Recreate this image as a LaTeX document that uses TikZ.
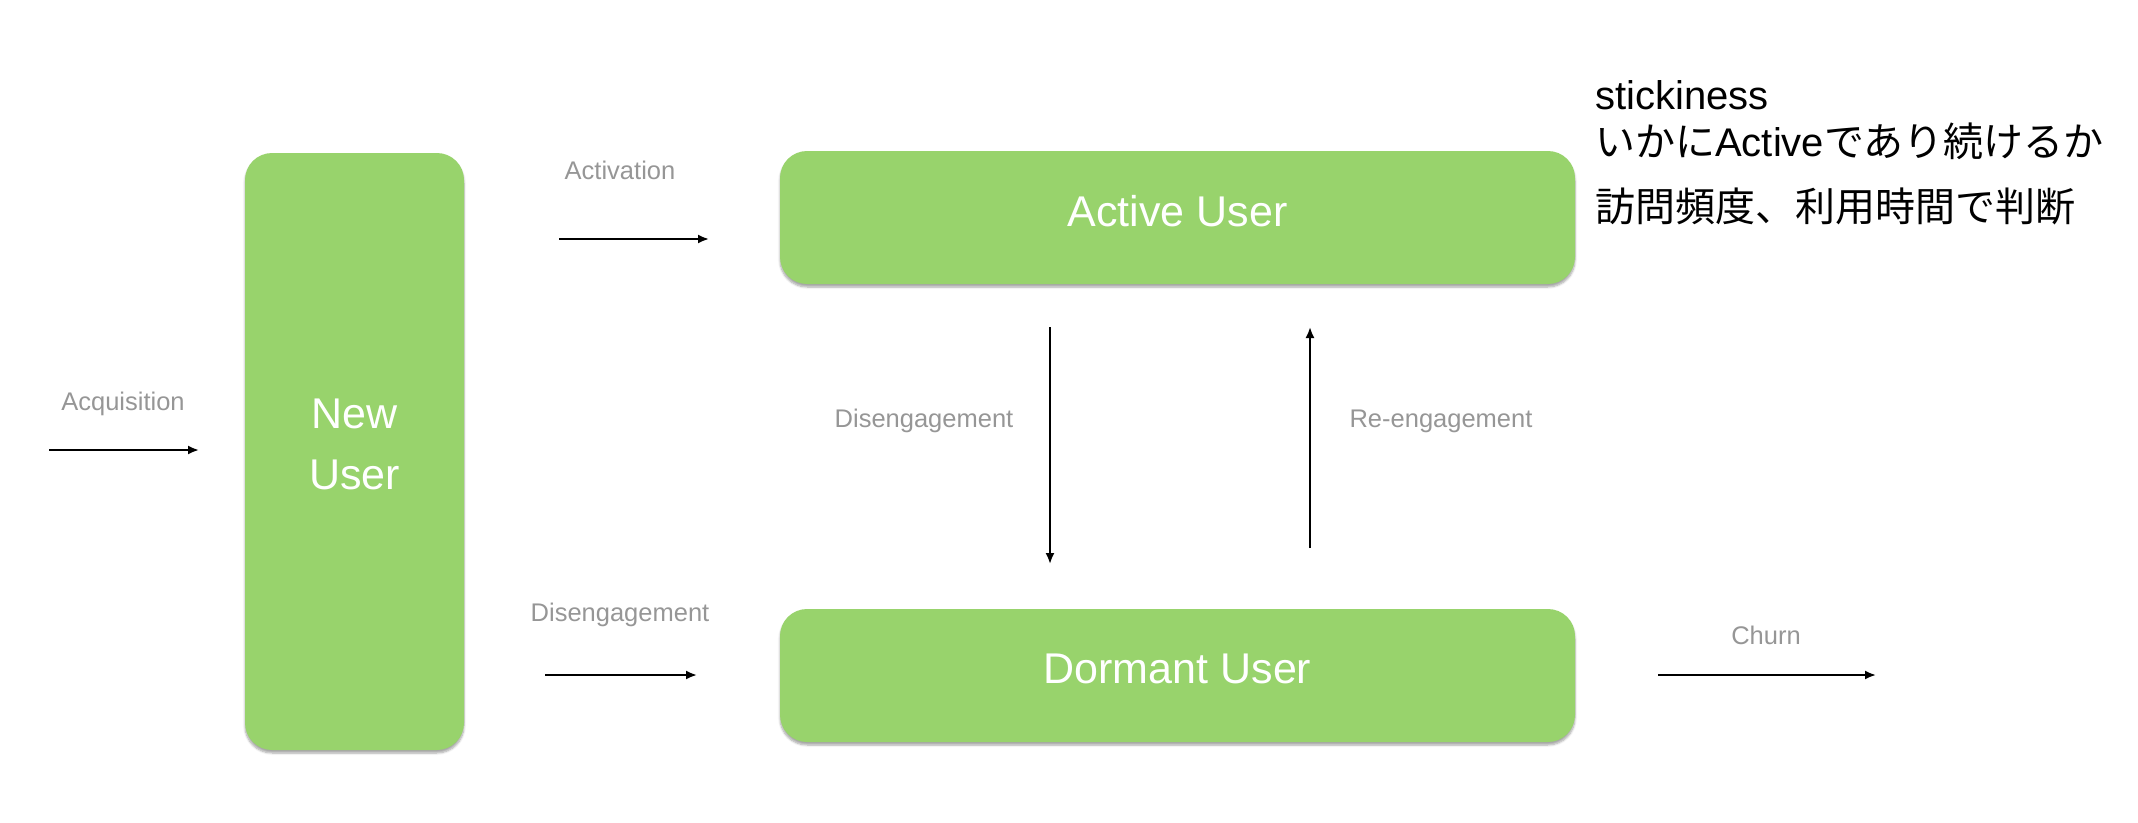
\documentclass[tikz,border=0pt]{standalone}
\usepackage{fontspec}
\setmainfont{Liberation Sans}
\newfontfamily\jp{Noto Sans CJK JP}
\usetikzlibrary{arrows.meta,shadows.blur}
\definecolor{boxgreen}{RGB}{152,211,108}
\definecolor{labelgray}{RGB}{150,150,150}
\tikzset{
  userbox/.style={rectangle, rounded corners=27pt, fill=boxgreen, draw=none,
    blur shadow={shadow xshift=0pt, shadow yshift=-3pt, shadow blur steps=6, shadow opacity=35},
    text=white, font=\fontsize{43}{61}\selectfont, align=center, inner sep=0pt, text depth=14pt},
  flowlabel/.style={text=labelgray, font=\fontsize{25.5}{29}\selectfont, inner sep=0pt},
  arr/.style={draw=black, line width=2pt, -{Latex[length=11pt,width=9pt]}},
  note/.style={anchor=west, inner sep=0pt, font=\fontsize{40}{48}\selectfont, text=black}
}
\begin{document}
\begin{tikzpicture}[x=1pt,y=-1pt]
\useasboundingbox (0,0) rectangle (2138,822);
% boxes
\node[userbox, minimum width=219pt, minimum height=597pt] (new) at (354.5,451.5) {New\\User};
\node[userbox, minimum width=795pt, minimum height=133pt] (active) at (1177.5,217.5) {Active User};
\node[userbox, minimum width=795pt, minimum height=133pt] (dormant) at (1177.5,675.5) {Dormant User};
% labels
\node[flowlabel] (lacq) at (123,404) {Acquisition};
\node[flowlabel] (lact) at (620,170) {Activation};
\node[flowlabel] (ldis1) at (620,615) {Disengagement};
\node[flowlabel] (ldis2) at (924,421) {Disengagement};
\node[flowlabel] (lre) at (1441,421) {Re-engagement};
\node[flowlabel] (lchurn) at (1766,635) {Churn};
% arrow ends
\coordinate (acqS) at (49,450);   \coordinate (acqE) at (199,450);
\coordinate (actS) at (559,239);  \coordinate (actE) at (709,239);
\coordinate (disS) at (545,675);  \coordinate (disE) at (697,675);
\coordinate (vdS) at (1050,327);  \coordinate (vdE) at (1050,564);
\coordinate (reS) at (1310,548);  \coordinate (reE) at (1310,327);
\coordinate (chS) at (1658,675);  \coordinate (chE) at (1876,675);
\draw[arr] (acqS) -- (acqE);
\draw[arr] (actS) -- (actE);
\draw[arr] (disS) -- (disE);
\draw[arr] (vdS) -- (vdE);
\draw[arr] (reS) -- (reE);
\draw[arr] (chS) -- (chE);
% note
\node[note] (n1) at (1595,95) {stickiness};
\node[note] (n2) at (1595,141) {{\jp いかに}Active{\jp であり続けるか}};
\node[note] (n3) at (1595,206) {\jp 訪問頻度、利用時間で判断};
\end{tikzpicture}
\end{document}
